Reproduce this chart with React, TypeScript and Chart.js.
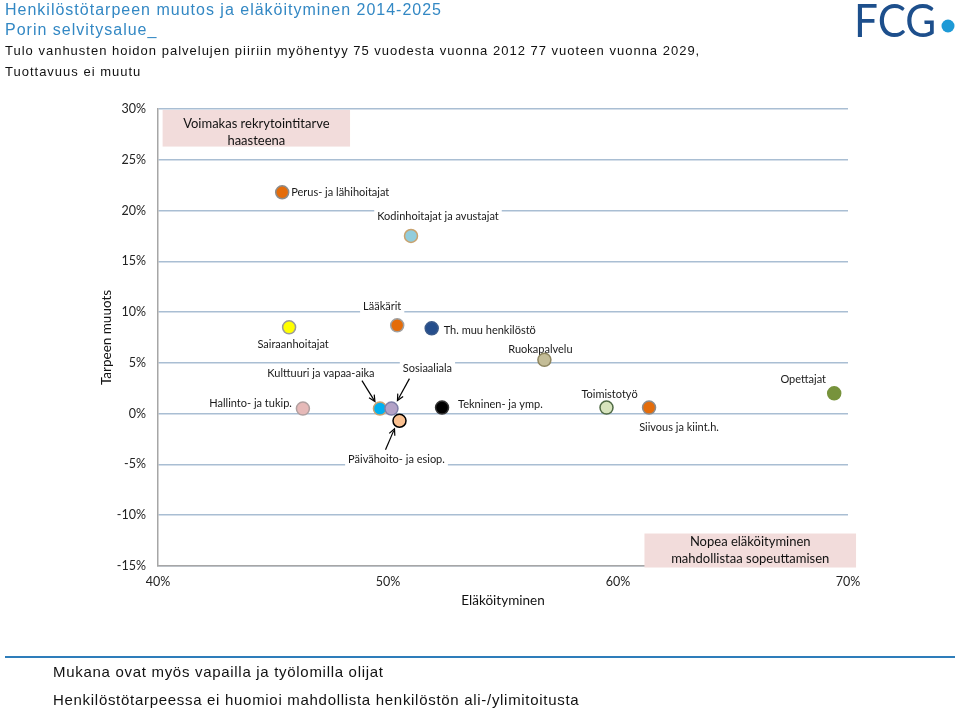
import React, { useEffect, useRef } from 'react';
import { Chart, registerables } from 'chart.js';
Chart.register(...registerables);

// ---- data ----
const categories = [
  'Perus- ja lähihoitajat',
  'Kodinhoitajat ja avustajat',
  'Sairaanhoitajat',
  'Lääkärit',
  'Th. muu henkilöstö',
  'Ruokapalvelu',
  'Hallinto- ja tukip.',
  'Kulttuuri ja vapaa-aika',
  'Sosiaaliala',
  'Päivähoito- ja esiop.',
  'Tekninen- ja ymp.',
  'Toimistotyö',
  'Siivous ja kiint.h.',
  'Opettajat',
];
const retirement = [45.4, 51.0, 45.7, 50.4, 51.9, 56.8, 46.3, 49.65, 50.15, 50.5, 52.35, 59.5, 61.35, 69.4];
const needChange = [21.8, 17.5, 8.5, 8.7, 8.4, 5.3, 0.5, 0.5, 0.5, -0.7, 0.6, 0.6, 0.6, 2.0];
const xTickValues = [40, 50, 60, 70];
const yTickValues = [-15, -10, -5, 0, 5, 10, 15, 20, 25, 30];

// ---- styles ----
const fillColors = ['#E46C0A', '#92CDDC', '#FFFF00', '#E46C0A', '#254E8C', '#C4BD97', '#E6B9B8', '#00B0F0', '#B3A2C7', '#FAC090', '#000000', '#D7E4BD', '#E46C0A', '#77933C'];
const borderColors = ['#8C8C8C', '#C9A26E', '#9A9A9A', '#A0A0A0', '#3A5A8A', '#8E8660', '#B0A0A0', '#C9A26E', '#7F7FA8', '#000000', '#333333', '#4F6A45', '#8C8C8C', '#77933C'];
// label placement: [dx, dy, align]
const labelPlacement: [number, number, CanvasTextAlign][] = [
  [9, 0, 'left'],
  [27, -19, 'center'],
  [4, 17, 'center'],
  [-15, -19, 'center'],
  [12, 2, 'left'],
  [-4, -10, 'center'],
  [-11, -5, 'right'],
  [-59, -35, 'center'],
  [36, -40, 'center'],
  [-3, 39, 'center'],
  [16, -3, 'left'],
  [3, -13, 'center'],
  [30, 20, 'center'],
  [-31, -14, 'center'],
];
// arrows: index -> [sx, sy, ex, ey] offsets from point
const arrows: Record<number, [number, number, number, number]> = {
  7: [-18, -28, -5, -7],
  8: [18, -30, 6, -8],
  9: [-14, 29, -5, 8],
};

const LABEL_FONT = '11px Lato, "Open Sans", sans-serif';
const HEAD_FONT = '"Liberation Sans", Arial, sans-serif';

function drawBox(ctx: CanvasRenderingContext2D, chart: any, x0: number, x1: number, y0: number, y1: number, lines: string[], textShift: number) {
  const xs = chart.scales.x, ys = chart.scales.y;
  const l = xs.getPixelForValue(x0), r = xs.getPixelForValue(x1);
  const t = ys.getPixelForValue(y0), b = ys.getPixelForValue(y1);
  ctx.fillStyle = '#F2DCDB';
  ctx.fillRect(l, t, r - l, b - t);
  ctx.fillStyle = '#111';
  ctx.font = '13px Lato, "Open Sans", sans-serif';
  ctx.textAlign = 'center';
  ctx.textBaseline = 'middle';
  const cx = (l + r) / 2, cy = (t + b) / 2 + textShift;
  const lh = 16.5;
  lines.forEach((s, i) => ctx.fillText(s, cx, cy + (i - (lines.length - 1) / 2) * lh));
}

const overlay = {
  id: 'overlay',
  beforeDatasetsDraw(chart: any) {
    const ctx = chart.ctx as CanvasRenderingContext2D;
    ctx.save();
    drawBox(ctx, chart, 40.2, 48.35, 29.9, 26.3, ['Voimakas rekrytointitarve', 'haasteena'], 4);
    drawBox(ctx, chart, 61.15, 70.35, -11.8, -15.15, ['Nopea eläköityminen', 'mahdollistaa sopeuttamisen'], 0);
    const meta = chart.getDatasetMeta(0);
    ctx.font = LABEL_FONT;
    ctx.textBaseline = 'middle';
    meta.data.forEach((pt: any, i: number) => {
      const [dx, dy, align] = labelPlacement[i];
      const x = pt.x + dx, y = pt.y + dy;
      const w = ctx.measureText(categories[i]).width;
      let lx = x;
      if (align === 'center') lx = x - w / 2;
      else if (align === 'right') lx = x - w;
      ctx.fillStyle = '#ffffff';
      ctx.fillRect(lx - 3, y - 7, w + 6, 14);
      ctx.fillStyle = '#1a1a1a';
      ctx.textAlign = align;
      ctx.fillText(categories[i], x, y);
    });
    ctx.restore();
  },
  afterDatasetsDraw(chart: any) {
    const ctx = chart.ctx as CanvasRenderingContext2D;
    const meta = chart.getDatasetMeta(0);
    ctx.save();
    ctx.strokeStyle = '#000';
    ctx.lineWidth = 1.2;
    Object.keys(arrows).forEach((k) => {
      const i = Number(k);
      const pt = meta.data[i];
      const [sx, sy, ex, ey] = arrows[i];
      const x0 = pt.x + sx, y0 = pt.y + sy, x1 = pt.x + ex, y1 = pt.y + ey;
      const ang = Math.atan2(y1 - y0, x1 - x0);
      ctx.beginPath();
      ctx.moveTo(x0, y0);
      ctx.lineTo(x1 - Math.cos(ang) * 2, y1 - Math.sin(ang) * 2);
      ctx.stroke();
      ctx.beginPath();
      ctx.moveTo(x1 - Math.cos(ang - 0.45) * 7, y1 - Math.sin(ang - 0.45) * 7);
      ctx.lineTo(x1, y1);
      ctx.lineTo(x1 - Math.cos(ang + 0.45) * 7, y1 - Math.sin(ang + 0.45) * 7);
      ctx.stroke();
    });
    ctx.restore();
  },
  afterDraw(chart: any) {
    const ctx = chart.ctx as CanvasRenderingContext2D;
    ctx.save();
    ctx.textAlign = 'left';
    ctx.textBaseline = 'alphabetic';
    // header
    (ctx as any).letterSpacing = '1px';
    ctx.fillStyle = '#3388C4';
    ctx.font = '16px ' + HEAD_FONT;
    ctx.fillText('Henkilöstötarpeen muutos ja eläköityminen 2014-2025', 5, 15);
    ctx.fillText('Porin selvitysalue_', 5, 35);
    ctx.fillStyle = '#111';
    ctx.font = '13px ' + HEAD_FONT;
    ctx.fillText('Tulo vanhusten hoidon palvelujen piiriin myöhentyy 75 vuodesta vuonna 2012 77 vuoteen vuonna 2029,', 5, 55);
    ctx.fillText('Tuottavuus ei muutu', 5, 76);
    // footer
    (ctx as any).letterSpacing = '0.7px';
    ctx.font = '15px ' + HEAD_FONT;
    ctx.fillText('Mukana ovat myös vapailla ja työlomilla olijat', 53, 677);
    ctx.fillText('Henkilöstötarpeessa ei huomioi mahdollista henkilöstön ali-/ylimitoitusta', 53, 705);
    (ctx as any).letterSpacing = '0px';
    ctx.strokeStyle = '#2E7DBA';
    ctx.lineWidth = 2;
    ctx.beginPath();
    ctx.moveTo(5, 657);
    ctx.lineTo(955, 657);
    ctx.stroke();
    // logo
    ctx.save();
    ctx.translate(854, 37);
    ctx.scale(0.92, 1);
    ctx.fillStyle = '#1D4F8C';
    ctx.font = '46px Lato, sans-serif';
    ctx.fillText('FCG', 0, 0);
    ctx.restore();
    ctx.fillStyle = '#1E9AD6';
    ctx.beginPath();
    ctx.arc(948, 26, 6.5, 0, Math.PI * 2);
    ctx.fill();
    ctx.restore();
  },
};

export default function App() {
  const ref = useRef<HTMLCanvasElement | null>(null);
  useEffect(() => {
    if (!ref.current) return;
    const tickFont = { family: 'Lato, "Open Sans", sans-serif', size: 12.5 };
    const chart = new Chart(ref.current, {
      type: 'scatter',
      data: {
        labels: categories,
        datasets: [
          {
            data: retirement.map((x, i) => ({ x, y: needChange[i] })),
            pointBackgroundColor: fillColors,
            pointBorderColor: borderColors,
            pointBorderWidth: 1.5,
            pointRadius: 6.5,
          },
        ],
      },
      options: {
        responsive: false,
        animation: false,
        layout: { padding: { left: 95, right: 111, top: 109, bottom: 95 } },
        plugins: { legend: { display: false }, tooltip: { enabled: false } },
        scales: {
          x: {
            type: 'linear',
            min: 40,
            max: 70,
            afterBuildTicks: (s: any) => { s.ticks = xTickValues.map((v) => ({ value: v })); },
            ticks: { callback: (v: any) => v + '%', padding: 8, font: tickFont, color: '#222' },
            grid: { display: false, drawTicks: false },
            border: { color: '#A6A6A6', width: 1.5 },
            title: { display: true, text: 'Eläköityminen', font: { family: 'Lato, "Open Sans", sans-serif', size: 13.5 }, color: '#111' },
            afterFit: (s: any) => { s.height = 47; },
          },
          y: {
            type: 'linear',
            min: -15,
            max: 30,
            afterBuildTicks: (s: any) => { s.ticks = yTickValues.map((v) => ({ value: v })); },
            ticks: { callback: (v: any) => v + '%', padding: 12, font: tickFont, color: '#222' },
            grid: { color: '#A9BED3', lineWidth: 1.5, drawTicks: false },
            border: { color: '#A6A6A6', width: 1.5 },
            title: { display: true, text: 'Tarpeen muuots', font: { family: 'Lato, "Open Sans", sans-serif', size: 13.5 }, color: '#111' },
            afterFit: (s: any) => { s.width = 63; },
          },
        },
      },
      plugins: [overlay],
    });
    return () => chart.destroy();
  }, []);
  return (
    <div style={{ position: 'fixed', left: 0, top: 0, width: 959, height: 708, background: '#fff' }}>
      <canvas ref={ref} width={959} height={708} />
    </div>
  );
}
